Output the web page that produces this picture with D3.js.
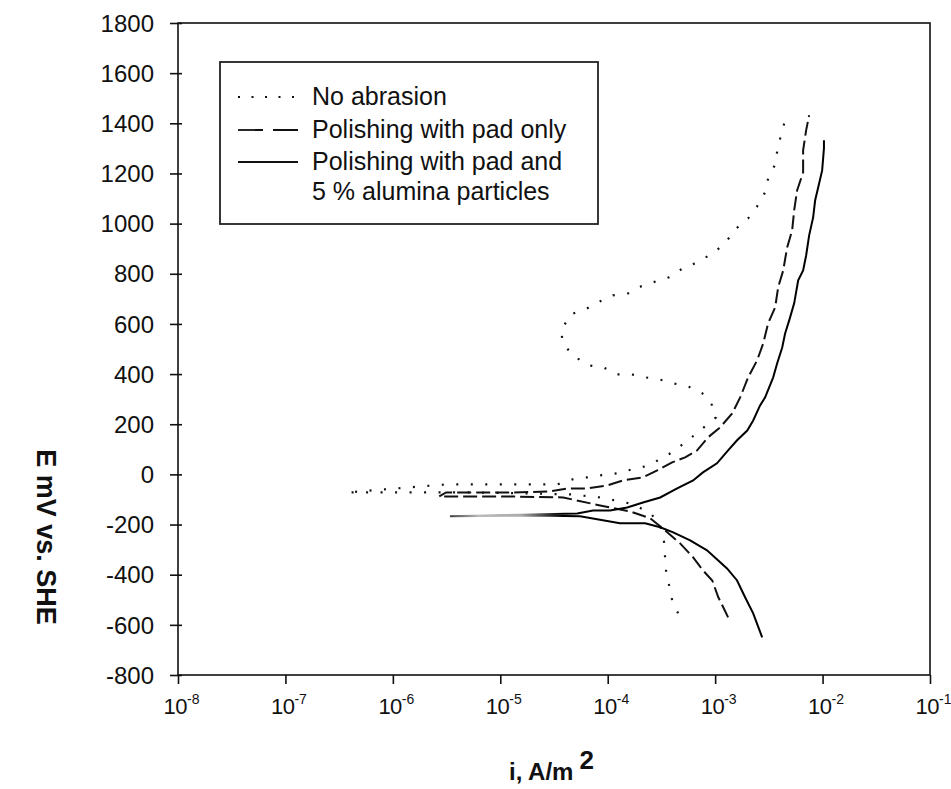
<!DOCTYPE html>
<html>
<head>
<meta charset="utf-8">
<script src="https://cdnjs.cloudflare.com/ajax/libs/d3/7.8.5/d3.min.js"></script>
<style>
  html, body { margin: 0; padding: 0; background: #fff; }
  svg { display: block; font-family: "Liberation Sans", Arial, sans-serif; }
</style>
</head>
<body>
<svg id="chart" width="951" height="789"></svg>
<script>
// Potentiodynamic polarization curves: current density i (A/m²) vs potential E (mV vs. SHE)

const yTicks = [-800, -600, -400, -200, 0, 200, 400, 600, 800, 1000, 1200, 1400, 1600, 1800];
const xTickExponents = [-8, -7, -6, -5, -4, -3, -2, -1];

const legendLabels = [
  ["No abrasion"],
  ["Polishing with pad only"],
  ["Polishing with pad and", "5 % alumina particles"]
];

// [i (A/m²), E (mV)] from the cathodic end through the corrosion potential to the anodic end
const noAbrasion = [
  [4.52e-4, -554], [3.98e-4, -502], [3.73e-4, -443], [3.5e-4, -391], [3.42e-4, -331],
  [3.35e-4, -271], [3.08e-4, -203], [2.48e-4, -152], [1.62e-4, -116], [8.5e-5, -92],
  [4.5e-5, -80], [1.85e-5, -76], [5.6e-6, -72], [1.22e-6, -72], [3.75e-7, -72],
  [3.1e-6, -40], [1.0e-5, -40], [3.4e-5, -40], [4.7e-5, -20], [6.4e-5, -12],
  [8.5e-5, -4], [1.22e-4, 4], [1.55e-4, 16], [2.23e-4, 32], [2.82e-4, 52],
  [3.98e-4, 88], [5.6e-4, 136], [7.6e-4, 183], [9.4e-4, 215], [1.02e-3, 227],
  [9.4e-4, 275], [7.6e-4, 323], [5.6e-4, 351], [4.07e-4, 363], [3.0e-4, 379],
  [2.23e-4, 387], [1.65e-4, 399], [1.22e-4, 399], [9.1e-5, 427], [6.6e-5, 435],
  [4.7e-5, 475], [3.8e-5, 526], [3.7e-5, 574], [4.5e-5, 638], [6.2e-5, 658],
  [8.1e-5, 686], [1.12e-4, 714], [1.55e-4, 722], [2.05e-4, 750], [2.82e-4, 770],
  [3.73e-4, 786], [5.14e-4, 825], [6.8e-4, 845], [9.4e-4, 881], [1.24e-3, 921],
  [1.5e-3, 973], [2.03e-3, 1021], [2.46e-3, 1069], [2.99e-3, 1133], [3.11e-3, 1180],
  [3.7e-3, 1244], [3.78e-3, 1292], [4.12e-3, 1356], [4.48e-3, 1412]
];

const padOnly = [
  [1.32e-3, -570], [1.19e-3, -530], [1.07e-3, -490], [9.4e-4, -423], [7.7e-4, -383],
  [6.24e-4, -331], [4.72e-4, -275], [3.42e-4, -223], [2.48e-4, -175], [1.62e-4, -148],
  [8.5e-5, -124], [3.85e-5, -92], [1.16e-5, -88], [2.7e-6, -88], [3.13e-6, -72],
  [1.31e-5, -72], [2.9e-5, -68], [4.2e-5, -56], [6.4e-5, -56], [9.9e-5, -44],
  [1.39e-4, -24], [2.13e-4, -12], [2.89e-4, 16], [3.98e-4, 48], [5.26e-4, 68],
  [6.8e-4, 96], [8.6e-4, 148], [1.11e-3, 187], [1.44e-3, 243], [1.71e-3, 307],
  [2.03e-3, 387], [2.46e-3, 455], [2.8e-3, 522], [3.11e-3, 602], [3.62e-3, 666],
  [3.86e-3, 746], [4.3e-3, 813], [4.68e-3, 905], [5.21e-3, 973], [5.44e-3, 1053],
  [5.8e-3, 1133], [6.59e-3, 1204], [6.59e-3, 1292], [7.03e-3, 1372], [7.5e-3, 1432]
];

const padAlumina = [
  [2.74e-3, -650], [2.26e-3, -554], [1.9e-3, -490], [1.6e-3, -423], [1.29e-3, -375],
  [8.4e-4, -303], [5.85e-4, -263], [4.07e-4, -231], [3.08e-4, -211], [2.23e-4, -195],
  [1.3e-4, -195], [5.53e-5, -167], [2.02e-5, -164], [3.4e-6, -167],
  [5.2e-5, -156], [7.3e-5, -144], [1.05e-4, -144], [1.52e-4, -132], [2.13e-4, -112],
  [3.08e-4, -92], [4.43e-4, -56], [6.24e-4, -24], [7.7e-4, 8], [1.04e-3, 44],
  [1.32e-3, 96], [1.6e-3, 136], [1.99e-3, 175], [2.26e-3, 215], [2.62e-3, 275],
  [2.92e-3, 307], [3.47e-3, 387], [3.78e-3, 443], [4.21e-3, 506], [4.48e-3, 562],
  [4.89e-3, 614], [5.44e-3, 682], [5.93e-3, 774], [6.59e-3, 813], [7.03e-3, 873],
  [7.5e-3, 953], [8.17e-3, 1025], [8.53e-3, 1093], [9.1e-3, 1144], [9.91e-3, 1212],
  [1.03e-2, 1300], [1.03e-2, 1332]
];

const svg = d3.select("#chart");
const plot = { left: 178, top: 23, right: 930, bottom: 675 };
const FONT = "'Liberation Sans', Arial, sans-serif";
const NARROW = "'Liberation Sans Narrow', 'Arial Narrow', 'Liberation Sans', Arial, sans-serif";

const x = d3.scaleLog().domain([1e-8, 1e-1]).range([plot.left, plot.right]);
const y = d3.scaleLinear().domain([-800, 1800]).range([plot.bottom, plot.top]);

// Frame
svg.append("rect")
  .attr("x", plot.left).attr("y", plot.top)
  .attr("width", plot.right - plot.left).attr("height", plot.bottom - plot.top)
  .attr("fill", "none").attr("stroke", "#111").attr("stroke-width", 1.6);

// Y axis: ticks cross the axis line, labels use a plain hyphen for negatives
const yAxis = svg.append("g").attr("transform", `translate(${plot.left},0)`)
  .call(d3.axisLeft(y).tickValues(yTicks).tickSize(8).tickPadding(16).tickFormat(d => String(d)));
yAxis.select(".domain").remove();
yAxis.selectAll(".tick line").attr("x2", 4).attr("x1", -8).attr("stroke", "#111").attr("stroke-width", 1.6);
yAxis.selectAll(".tick text").attr("font-size", 24).attr("fill", "#111")
  .attr("font-family", FONT).attr("dy", "0.34em");

// X axis: decade ticks below the axis, labels as powers of ten
const xAxis = svg.append("g").attr("transform", `translate(0,${plot.bottom})`)
  .call(d3.axisBottom(x).tickValues(xTickExponents.map(e => Math.pow(10, e))).tickSize(9).tickFormat(""));
xAxis.select(".domain").remove();
xAxis.selectAll(".tick line").attr("stroke", "#111").attr("stroke-width", 1.6);
xAxis.selectAll(".tick").each(function(d, k) {
  const t = d3.select(this).append("text")
    .attr("x", 3).attr("y", 39).attr("text-anchor", "middle").attr("fill", "#111")
    .attr("font-family", NARROW);
  t.append("tspan").attr("font-size", 22).attr("letter-spacing", -0.5).text("10");
  t.append("tspan").attr("font-size", 14).attr("dy", -10).text(String(xTickExponents[k]));
});

// Axis titles
const xTitle = svg.append("text")
  .attr("x", 509).attr("y", 780)
  .attr("font-weight", "bold").attr("fill", "#111");
xTitle.append("tspan").attr("font-size", 24).text("i, A/m");
xTitle.append("tspan").attr("font-size", 26).attr("dx", 6).attr("dy", -11).text("2");

svg.append("text")
  .attr("transform", "translate(37,537) rotate(90)")
  .attr("text-anchor", "middle").attr("font-size", 27).attr("font-weight", "bold")
  .attr("fill", "#111").text("E mV vs. SHE");

// Curves
const line = d3.line().x(d => x(d[0])).y(d => y(d[1]));

// horizontal fade on the alumina curve near its corrosion-potential spike
const defs = svg.append("defs");
const grad = defs.append("linearGradient").attr("id", "aluminaFade")
  .attr("gradientUnits", "userSpaceOnUse")
  .attr("x1", x(3e-6)).attr("x2", x(6e-5)).attr("y1", 0).attr("y2", 0);
[[0, "#222"], [0.1, "#666"], [0.25, "#bbb"], [0.55, "#aaa"], [0.72, "#444"], [0.85, "#000"], [1, "#000"]]
  .forEach(([o, c]) => grad.append("stop").attr("offset", o).attr("stop-color", c));

svg.append("path").datum(noAbrasion).attr("d", line)
  .attr("fill", "none").attr("stroke", "#111").attr("stroke-width", 2.2)
  .attr("stroke-dasharray", "2,12.5");

svg.append("path").datum(padOnly).attr("d", line)
  .attr("fill", "none").attr("stroke", "#111").attr("stroke-width", 2)
  .attr("stroke-dasharray", "14,5");

svg.append("path").datum(padAlumina).attr("d", line)
  .attr("fill", "none").attr("stroke", "url(#aluminaFade)").attr("stroke-width", 2);

// Legend
const lg = svg.append("g");
lg.append("rect").attr("x", 220).attr("y", 62).attr("width", 378).attr("height", 162)
  .attr("fill", "#fff").attr("stroke", "#222").attr("stroke-width", 1.8);

const legendStyles = [
  { dash: "2,11.5", w: 2.2 },
  { dash: "25,10", w: 1.8 },
  { dash: null, w: 1.8 }
];
const legendRows = [97, 130, 162];
legendLabels.forEach((lines, k) => {
  const ly = legendRows[k];
  const p = lg.append("line").attr("x1", 238).attr("x2", 298).attr("y1", ly).attr("y2", ly)
    .attr("stroke", "#111").attr("stroke-width", legendStyles[k].w);
  if (legendStyles[k].dash) p.attr("stroke-dasharray", legendStyles[k].dash);
  lines.forEach((s, j) => {
    lg.append("text").attr("x", 312).attr("y", ly + 8 + j * 30)
      .attr("font-size", 25).attr("fill", "#111").text(s);
  });
});
</script>
</body>
</html>
